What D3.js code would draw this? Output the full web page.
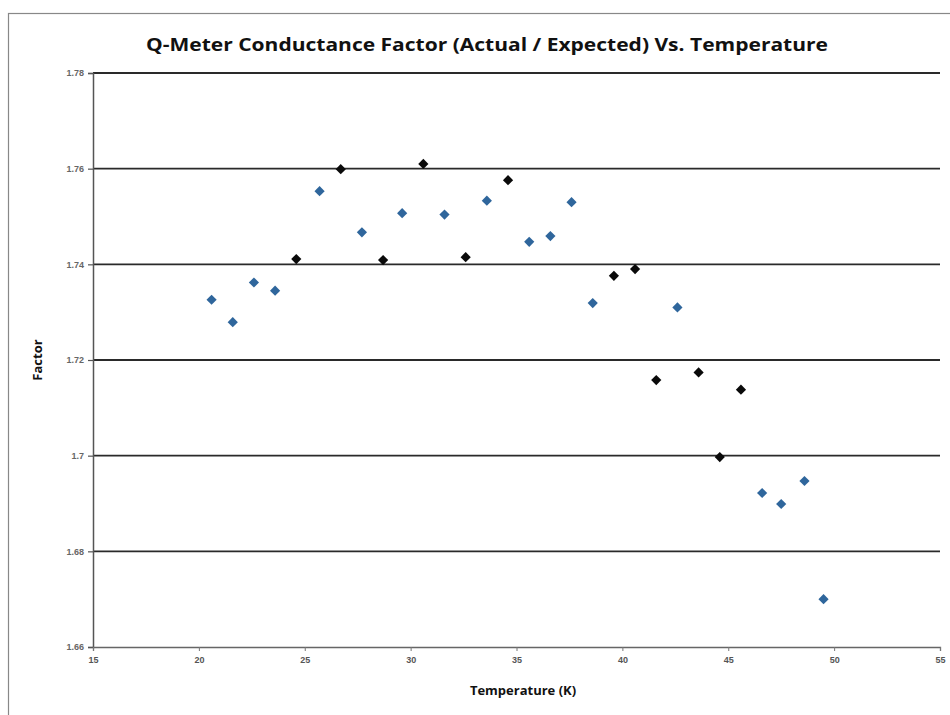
<!DOCTYPE html>
<html>
<head>
<meta charset="utf-8">
<script src="https://cdn.jsdelivr.net/npm/d3@7"></script>
<style>
  html, body { margin: 0; padding: 0; background: #fff; }
  svg { display: block; font-family: "Open Sans", "DejaVu Sans", sans-serif; }
</style>
</head>
<body>
<svg id="chart" width="950" height="715"></svg>
<script>
// ---- data ----
const title = "Q-Meter Conductance Factor (Actual / Expected) Vs. Temperature";
const xTitle = "Temperature (K)";
const yTitle = "Factor";
const xTicks = [15, 20, 25, 30, 35, 40, 45, 50, 55];
const yTicks = [1.66, 1.68, 1.70, 1.72, 1.74, 1.76, 1.78];

const blueTemp   = [20.6, 21.6, 22.6, 23.6, 25.7, 27.7, 29.6, 31.6, 33.6, 35.6, 36.6, 37.6, 38.6, 42.6, 46.6, 47.5, 48.6, 49.5];
const blueFactor = [1.7326, 1.7279, 1.7362, 1.7345, 1.7553, 1.7467, 1.7507, 1.7504, 1.7533, 1.7447, 1.7459, 1.7530, 1.7319, 1.7310, 1.6922, 1.6899, 1.6947, 1.6700];

const blackTemp   = [24.6, 26.7, 28.7, 30.6, 32.6, 34.6, 39.6, 40.6, 41.6, 43.6, 44.6, 45.6];
const blackFactor = [1.7411, 1.7599, 1.7409, 1.7610, 1.7415, 1.7576, 1.7376, 1.7390, 1.7158, 1.7174, 1.6997, 1.7138];

// ---- layout ----
const svg = d3.select("#chart");
const pL = 93, pR = 940, pT = 73, pB = 647;

const x = d3.scaleLinear().domain([15, 55]).range([pL, pR]);
const y = d3.scaleLinear().domain([1.66, 1.78]).range([pB, pT]);

// outer frame
svg.append("rect").attr("x", 8.5).attr("y", 13.5).attr("width", 1000).attr("height", 1000)
  .attr("fill", "none").attr("stroke", "#888").attr("stroke-width", 1.2);

// gridlines
svg.append("g").selectAll("line").data(yTicks.filter(d => d > 1.66)).join("line")
  .attr("x1", pL).attr("x2", pR)
  .attr("y1", d => y(d)).attr("y2", d => y(d))
  .attr("stroke", "#2a2a2a").attr("stroke-width", 1.8);

// y axis
const yAxis = d3.axisLeft(y).tickValues(yTicks).tickSize(5).tickPadding(4)
  .tickFormat(d => String(+d.toFixed(2)));
const gy = svg.append("g").attr("transform", `translate(${pL},0)`).call(yAxis);
gy.select(".domain").attr("stroke", "#555").attr("stroke-width", 1.5);
gy.selectAll(".tick line").attr("stroke", "#555").attr("stroke-width", 1.2);
gy.selectAll("text").attr("font-size", 9).attr("font-weight", "bold").attr("fill", "#666");

// x axis
const xAxis = d3.axisBottom(x).tickValues(xTicks).tickSize(4).tickPadding(6);
const gx = svg.append("g").attr("transform", `translate(0,${pB})`).call(xAxis);
gx.select(".domain").attr("stroke", "#666").attr("stroke-width", 1.3);
gx.selectAll(".tick line").attr("stroke", "#777");
gx.selectAll("text").attr("font-size", 9).attr("font-weight", "bold").attr("fill", "#555");

// markers (square diamonds, Excel style)
const diamond = d3.symbol().type(d3.symbolSquare).size(52);
svg.append("g").selectAll("path").data(blueTemp.map((t, i) => [t, blueFactor[i]])).join("path")
  .attr("d", diamond)
  .attr("transform", d => `translate(${x(d[0])},${y(d[1])}) rotate(45)`)
  .attr("fill", "#2f669c");
svg.append("g").selectAll("path").data(blackTemp.map((t, i) => [t, blackFactor[i]])).join("path")
  .attr("d", diamond)
  .attr("transform", d => `translate(${x(d[0])},${y(d[1])}) rotate(45)`)
  .attr("fill", "#0a0a0a");

// titles
svg.append("text").attr("x", 487).attr("y", 51).attr("text-anchor", "middle")
  .attr("font-size", 18.5).attr("font-weight", "bold").attr("fill", "#111")
  .attr("textLength", 682).attr("lengthAdjust", "spacingAndGlyphs")
  .text(title);
svg.append("text").attr("x", 523).attr("y", 695).attr("text-anchor", "middle")
  .attr("font-size", 13).attr("font-weight", "bold").attr("fill", "#111")
  .text(xTitle);
svg.append("text").attr("transform", "translate(42,360) rotate(-90)").attr("text-anchor", "middle")
  .attr("font-size", 13).attr("font-weight", "bold").attr("fill", "#111")
  .text(yTitle);
</script>
</body>
</html>
